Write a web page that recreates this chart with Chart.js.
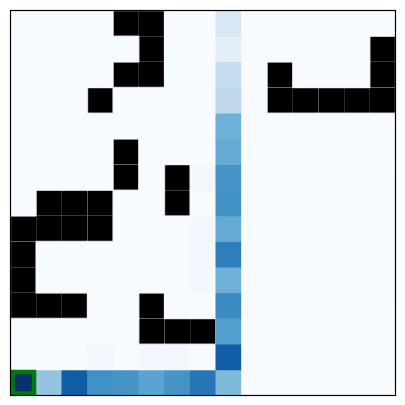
<!DOCTYPE html>
<html>
<head>
<meta charset="utf-8">
<script src="https://cdn.jsdelivr.net/npm/chart.js@4/dist/chart.umd.min.js"></script>
<style>
html,body{margin:0;padding:0;background:#fff;}
#wrap{width:405px;height:405px;}
</style>
</head>
<body>
<div id="wrap"><canvas id="c" width="405" height="405"></canvas></div>
<script>
// Grid size
const columns = ["0","1","2","3","4","5","6","7","8","9","10","11","12","13","14"];
const rows = [0,1,2,3,4,5,6,7,8,9,10,11,12,13,14];

// Cell values (0..1), row 0 at top
const values = [
  [0,0,0,0,0,0,0,0,0.16,0,0,0,0,0,0],
  [0,0,0,0,0,0,0,0,0.10,0,0,0,0,0,0],
  [0,0,0,0,0,0,0,0,0.25,0,0,0,0,0,0],
  [0,0,0,0,0,0,0,0,0.27,0,0,0,0,0,0],
  [0,0,0,0,0,0,0,0,0.49,0,0,0,0,0,0],
  [0,0,0,0,0,0,0,0,0.52,0,0,0,0,0,0],
  [0,0,0,0,0,0,0,0.03,0.61,0,0,0,0,0,0],
  [0,0,0,0,0,0,0,0,0.63,0,0,0,0,0,0],
  [0,0,0,0,0,0,0,0.02,0.52,0,0,0,0,0,0],
  [0,0,0,0,0,0,0,0.02,0.70,0,0,0,0,0,0],
  [0,0,0,0,0,0,0,0.02,0.49,0,0,0,0,0,0],
  [0,0,0,0,0,0,0,0,0.65,0,0,0,0,0,0],
  [0,0,0,0,0,0,0,0,0.57,0,0,0,0,0,0],
  [0,0,0,0.02,0,0.02,0.02,0,0.83,0,0,0,0,0,0],
  [1.0,0.40,0.83,0.63,0.61,0.55,0.61,0.73,0.45,0,0,0,0,0,0]
];

// Wall cells [row, col]
const walls = [
  [0,4],[0,5],
  [1,5],[1,14],
  [2,4],[2,5],[2,10],[2,14],
  [3,3],[3,10],[3,11],[3,12],[3,13],[3,14],
  [5,4],
  [6,4],[6,6],
  [7,1],[7,2],[7,3],[7,6],
  [8,0],[8,1],[8,2],[8,3],
  [9,0],
  [10,0],
  [11,0],[11,1],[11,2],[11,5],
  [12,5],[12,6],[12,7]
];

// Highlighted (agent) cell [row, col]
const agentCell = [14, 0];

// Blues colormap
const bluesStops = ["#f7fbff","#deebf7","#c6dbef","#9ecae1","#6baed6","#4292c6","#2171b5","#08519c","#08306b"];
function hex2rgb(h){return [parseInt(h.slice(1,3),16),parseInt(h.slice(3,5),16),parseInt(h.slice(5,7),16)];}
function blues(v){
  v = Math.max(0, Math.min(1, v));
  const p = v * (bluesStops.length - 1);
  const i = Math.min(Math.floor(p), bluesStops.length - 2);
  const t = p - i;
  const a = hex2rgb(bluesStops[i]), b = hex2rgb(bluesStops[i+1]);
  const c = a.map((x,k)=>Math.round(x + (b[k]-x)*t));
  return `rgb(${c[0]},${c[1]},${c[2]})`;
}
const isWall = (r,c) => walls.some(w => w[0]===r && w[1]===c);
function wallEdges(r,c){
  if(!isWall(r,c)) return 0;
  return {
    top: isWall(r-1,c) ? 0 : 1,
    bottom: isWall(r+1,c) ? 0 : 1,
    left: isWall(r,c-1) ? 0 : 1,
    right: isWall(r,c+1) ? 0 : 1
  };
}

const datasets = rows.map(r => ({
  data: columns.map(() => [r, r+1]),
  backgroundColor: columns.map((_, c) => isWall(r,c) ? "#000000" : blues(values[r][c])),
  borderColor: "rgba(200,200,206,1)",
  borderWidth: columns.map((_, c) => wallEdges(r,c)),
  borderSkipped: false,
  grouped: false,
  barPercentage: 1,
  categoryPercentage: 1
}));

// agent marker, drawn on top
datasets.push({
  data: columns.map((_, c) => c === agentCell[1] ? [agentCell[0], agentCell[0]+1] : null),
  backgroundColor: "rgba(0,0,0,0)",
  borderColor: "#007a0a",
  borderWidth: 4,
  borderSkipped: false,
  grouped: false,
  order: -1,
  barPercentage: 1,
  categoryPercentage: 1
});

const frame = {
  id: "frame",
  afterDraw(chart){
    const a = chart.chartArea, ctx = chart.ctx;
    ctx.save();
    ctx.strokeStyle = "#000";
    ctx.lineWidth = 1.2;
    ctx.strokeRect(a.left, a.top, a.right - a.left, a.bottom - a.top);
    ctx.restore();
  }
};

new Chart(document.getElementById("c"), {
  type: "bar",
  data: { labels: columns, datasets },
  options: {
    responsive: false,
    animation: false,
    events: [],
    layout: { padding: { left: 10.5, right: 9.5, top: 10.5, bottom: 9.5 } },
    plugins: { legend: { display: false }, tooltip: { enabled: false } },
    scales: {
      x: { display: false, offset: true },
      y: { display: false, min: 0, max: 15, reverse: true }
    }
  },
  plugins: [frame]
});
</script>
</body>
</html>
